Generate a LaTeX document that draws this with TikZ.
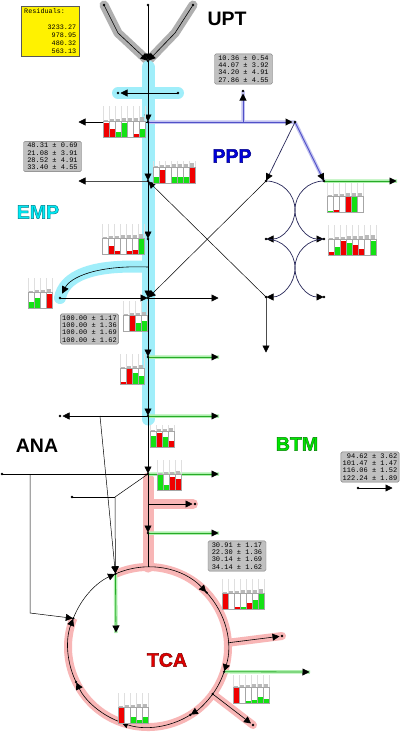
\documentclass[tikz,border=0pt]{standalone}
\usepackage{fontspec}
\setmainfont{Liberation Sans}
\newfontfamily\monof{Liberation Mono}
\usetikzlibrary{arrows.meta,calc}
\makeatletter
\newcommand{\outl}[1]{\pgfsys@invoke{2 Tr #1 RG 0.45 w}}
\makeatother
\definecolor{barR}{RGB}{240,0,0}
\definecolor{barG}{RGB}{20,225,20}
\definecolor{cyanhl}{RGB}{160,238,250}
\definecolor{pinkhl}{RGB}{248,182,182}
\definecolor{greyhl}{RGB}{175,175,175}
\definecolor{boxgrey}{RGB}{192,192,192}
\definecolor{boxedge}{RGB}{120,120,120}
\definecolor{pppblue}{RGB}{80,80,200}
\definecolor{pppnavy}{RGB}{40,40,90}
\definecolor{grline}{RGB}{40,170,40}
\definecolor{grhalo}{RGB}{175,240,175}
\definecolor{bluehalo}{RGB}{195,195,240}
\definecolor{empcyan}{RGB}{0,235,245}
\definecolor{tcared}{RGB}{225,0,0}
\definecolor{btmgreen}{RGB}{0,230,0}
\definecolor{ppptext}{RGB}{0,0,220}
\newcommand{\bchart}[4]{%
 \foreach \bcol/\bfr [count=\i from 0] in {#4} {%
  \pgfmathsetmacro{\xa}{#1+6*\i}%
  \pgfmathsetmacro{\xb}{#1+6*\i+6}%
  \pgfmathsetmacro{\yb}{#2+16}%
  \pgfmathsetmacro{\yf}{#2+16-16*\bfr}%
  \pgfmathsetmacro{\yh}{#2-#3}%
  \pgfmathsetmacro{\yg}{#2-1.5-0.4*\i}%
  \draw[hdr] (\xa,#2) -- (\xa,\yh);
  \draw[hdr] (\xb,#2) -- (\xb,\yh);
  \fill[gray!55] (\xa+0.6,#2) rectangle (\xb-0.6,\yg);
  \fill[white] (\xa,#2) rectangle (\xb,\yb);
  \fill[\bcol] (\xa,\yb) rectangle (\xb,\yf);
  \draw[gray!70,line width=0.4pt] (\xa,#2) rectangle (\xb,\yb);
 }}
\begin{document}
\begin{tikzpicture}[x=1pt,y=-1pt,
  arr/.style={-{Triangle[length=7pt,width=7pt,black]},shorten >=0.5pt},
  arrd/.style={-{Triangle[length=7pt,width=7pt,black]},shorten >=2.5pt},
  ln/.style={line width=0.6pt},
  grn/.style={line width=0.8pt,draw=grline},
  navy/.style={line width=0.7pt,draw=pppnavy},
  hdr/.style={draw=gray!25,line width=0.3pt},
  valbox/.style={draw=boxedge,fill=boxgrey,rounded corners=1.5pt,font=\monof\fontsize{7}{7.3}\selectfont,align=right,inner sep=1.8pt,minimum width=58pt},
  bigtxt/.style={font=\bfseries\fontsize{19.5}{20}\selectfont,inner sep=0pt}]
\useasboundingbox (0,0) rectangle (400,737);
\fill[white] (0,0) rectangle (400,737);
% ---------- coordinates
\coordinate (u0) at (148,5);
\coordinate (uL) at (104,5);
\coordinate (uLm) at (118,33);
\coordinate (uR) at (193,5);
\coordinate (uRm) at (175,33);
\coordinate (u1) at (148,61);
\coordinate (hR) at (178,93);
\coordinate (hL) at (118,93);
\coordinate (a1) at (148,122);
\coordinate (a1L) at (78,122);
\coordinate (b0) at (243,122);
\coordinate (b0U) at (243,91);
\coordinate (b1) at (295,122);
\coordinate (a2) at (148,181);
\coordinate (a2L) at (78,181);
\coordinate (a3) at (148,239);
\coordinate (cy0) at (148,267);
\coordinate (cyE) at (62,294);
\coordinate (e4L) at (60,298);
\coordinate (a4) at (148,298);
\coordinate (a4R) at (219,298);
\coordinate (a5) at (148,357);
\coordinate (a5R) at (219,357);
\coordinate (a6) at (148,416);
\coordinate (a6R) at (219,416);
\coordinate (a6L) at (60,416);
\coordinate (d6) at (100,416);
\coordinate (a7) at (148,474);
\coordinate (a7R) at (219,474);
\coordinate (f0) at (2,474);
\coordinate (f1) at (30,474);
\coordinate (f2) at (30,613);
\coordinate (g1) at (115,497);
\coordinate (g0) at (72,497);
\coordinate (t0) at (148,504);
\coordinate (t0R) at (195,504);
\coordinate (a8) at (148,533);
\coordinate (a8R) at (219,533);
\coordinate (ctop) at (148,567);
\coordinate (cc) at (148,647);
\coordinate (cT) at ($(cc)+(-114:80)$);
\coordinate (n1) at ($(cc)+(-43:80)$);
\coordinate (b3) at ($(cc)+(-3:80)$);
\coordinate (n2) at ($(cc)+(18:80)$);
\coordinate (n3) at ($(cc)+(36:80)$);
\coordinate (n4) at ($(cc)+(58:80)$);
\coordinate (n5) at ($(cc)+(110:80)$);
\coordinate (n6) at ($(cc)+(154:80)$);
\coordinate (cL) at ($(cc)+(201:80)$);
\coordinate (b3D) at (282,636);
\coordinate (n2R) at (310,672);
\coordinate (n3D) at (253,725);
\coordinate (cTD) at (116,633);
\coordinate (P1) at (266,181);
\coordinate (P2) at (324,181);
\coordinate (P2R) at (397,181);
\coordinate (M1) at (295,210);
\coordinate (L2) at (266,239);
\coordinate (R2) at (324,239);
\coordinate (M2) at (295,268);
\coordinate (L3) at (266,297);
\coordinate (R3) at (324,297);
\coordinate (L3D) at (266,353);
\coordinate (q0) at (358,488);
\coordinate (q1) at (393,488);
% ---------- highlights
\draw[greyhl,line width=9pt,line cap=round,line join=round] (uL)--(uLm)--(u1);
\draw[greyhl,line width=9pt,line cap=round,line join=round] (uR)--(uRm)--(u1);
\draw[cyanhl,line width=13pt,line cap=round] (148,67)--(148,419);
\draw[cyanhl,line width=12pt,line cap=round] (hL)--(hR);
\draw[cyanhl,line width=12pt,line cap=round] (cy0) .. controls (92,264) and (64,276) .. (e4L);
\draw[pinkhl,line width=11pt,line cap=round] (148,478)--(ctop);
\draw[pinkhl,line width=10pt,line cap=round] (t0)--(193,504);
\draw[pinkhl,line width=8pt] (cT) arc[start angle=-114,end angle=201,radius=80];
\draw[pinkhl,line width=8pt,line cap=round] (b3)--(b3D);
\draw[pinkhl,line width=8pt,line cap=round] (n3)--(n3D);
\draw[bluehalo,line width=3.5pt] (a1)--(b1) (b0)--(b0U) (b1)--(P2);
\draw[grhalo,line width=3.5pt] (P2)--(P2R) (a5)--(a5R) (a6)--(a6R) (a7)--(a7R) (a8)--(a8R) (cT)--(cTD) (n2)--(n2R);
% ---------- UPT
\draw[ln,arr] (uL)--(uLm)--(u1);
\draw[ln,arr] (uR)--(uRm)--(u1);
\draw[ln,arr] (u0)--(u1);
% ---------- main axis
\draw[ln,arr] (u1)--(a1);
\draw[ln,arr] (a1)--(a2);
\draw[ln,arr] (a2)--(a3);
\draw[ln,arr] (a3)--(a4);
\draw[ln,arr] (a4)--(a5);
\draw[ln,arr] (a5)--(a6);
\draw[ln,arr] (a6)--(a7);
\draw[ln,arr] (a7)--(a8);
\draw[ln] (a8)--(ctop);
\draw[ln,arrd] (hR)--(hL);
\draw[ln,arr] (a1)--(a1L);
\draw[ln,arr,draw=gray!60!black] (a2)--(a2L);
% ---------- PPP
\draw[line width=1pt,draw=pppblue,arrd] (a1)--(b1);
\draw[line width=1pt,draw=pppblue,arrd] (b0)--(b0U);
\draw[navy,arr] (b1)--(P1);
\draw[line width=0.9pt,draw=pppblue,arr] (b1)--(P2);
\draw[navy] (P1) arc[start angle=-90,end angle=0,radius=29];
\draw[navy,arr] (M1) arc[start angle=0,end angle=90,radius=29];
\draw[navy] (P2) arc[start angle=-90,end angle=-180,radius=29];
\draw[navy,arr] (M1) arc[start angle=180,end angle=90,radius=29];
\draw[navy] (L2) arc[start angle=-90,end angle=0,radius=29];
\draw[navy,arr] (M2) arc[start angle=0,end angle=90,radius=29];
\draw[navy] (R2) arc[start angle=-90,end angle=-180,radius=29];
\draw[navy,arr] (M2) arc[start angle=180,end angle=90,radius=29];
\draw[grn,arr] (P2)--(P2R);
\draw[line width=0.5pt,arr] (P1)--(a4);
\draw[line width=0.5pt,arr] (L3)--(a2);
\draw[ln,arr,draw=gray!60!black] (L3)--(L3D);
% ---------- EMP / lower glycolysis
\draw[ln,arr] (cy0) .. controls (95,265) and (70,278) .. (cyE);
\draw[ln,arr] (e4L)--(a4);
\draw[ln,arr] (a4)--(a4R);
\draw[grn,arr] (a5)--(a5R);
\draw[grn,arr] (a6)--(a6R);
\draw[line width=0.5pt,arrd] (a6)--(a6L);
\draw[line width=0.5pt,arr] (d6)--(cT);
% ---------- ANA
\draw[line width=0.5pt] (f0)--(a7);
\draw[grn,arr] (a7)--(a7R);
\draw[line width=0.5pt,arr] (f1)--(f2)--(cL);
\draw[line width=0.5pt,arr] (a7)--(g1)--(cT);
\draw[line width=0.5pt] (g0)--(g1);
\draw[ln,arrd] (t0)--(t0R);
\draw[grn,arr] (a8)--(a8R);
% ---------- TCA cycle
\draw[line width=0.5pt,arr] (cL) arc[start angle=201,end angle=246,radius=80];
\draw[ln,arr] (cT) arc[start angle=-114,end angle=-43,radius=80];
\draw[ln,arr] (n1) arc[start angle=-43,end angle=18,radius=80];
\draw[ln] (n2) arc[start angle=18,end angle=36,radius=80];
\draw[ln,arr] (n3) arc[start angle=36,end angle=58,radius=80];
\draw[ln,arr] (n4) arc[start angle=58,end angle=110,radius=80];
\draw[ln,arr] (n5) arc[start angle=110,end angle=154,radius=80];
\draw[ln,arr] (n6) arc[start angle=154,end angle=201,radius=80];
\draw[ln,arrd] (b3)--(b3D);
\draw[grn,arr] (n2)--(n2R);
\draw[ln,arrd] (n3)--(n3D);
\draw[grn,arr] (cT)--(cTD);
\draw[ln,arr] (q0)--(q1);
% ---------- dots
\foreach \p in {u0,uL,uR,u1,hL,hR,a1,b0U,b1,a2,a3,a4,a5,a6,a7,a8,P1,P2,L2,R2,L3,R3,e4L,a6L,f0,g0,t0R,cT,cL,n1,n2,n3,n4,n5,n6,b3D,n3D,q0}
  \fill (\p) circle (1.3);
% ---------- bar charts
\bchart{103}{121}{15}{barR/.85, barR/.5, barG/.3, barG/.9, white/0, barR/.2, barG/.5}
\bchart{153}{167}{6}{barG/.4, barR/.8, white/0, barG/.4, barG/.4, barG/.4, barR/1}
\bchart{102}{238}{14}{white/0, barR/.5, barR/.2, white/0, barR/.2, barR/.25, barG/1}
\bchart{28}{292}{14}{barG/.35, barG/.6, white/0, barR/.9}
\bchart{123}{315}{14}{white/0, barR/1, barG/.5, barG/.6}
\bchart{120}{368}{14}{barR/.15, barR/1, barG/.7, barG/.5}
\bchart{150}{431}{6}{barG/.7, barR/.9, barG/.6, barR/.4}
\bchart{157}{474}{14}{barG/1, barG/.3, barR/.8, barR/.7}
\bchart{327}{196}{13}{barG/.05, barR/.15, white/0, barR/.95, barG/.95, white/0}
\bchart{328}{239}{14}{barR/.2, barG/.5, barR/.85, barG/.75, barR/.6, barR/.4, white/0, barG/.9}
\bchart{222}{593}{14}{barR/1, white/0, barR/.15, barG/.1, barR/.4, barG/.55, barG/.95}
\bchart{233}{687}{12}{barR/1, white/0, barG/.15, barG/.2, barG/.4, barG/.25}
\bchart{118}{707}{14}{barR/1, white/0, barG/.35, barG/.2, barG/.35}
% ---------- boxes
\node[draw=gray!70!black,fill=yellow,anchor=north west,minimum width=58pt,minimum height=50pt,text width=52pt,align=left,inner sep=2.5pt,font=\monof\fontsize{6.8}{8}\selectfont] (resid) at (21,6)
 {Residuals:\\[7.5pt]\hfill 3233.27\\\hfill 978.95\\\hfill 480.32\\\hfill 563.13};
\node[valbox] (boxupt) at (243.5,69) {10.36 ± 0.54\\44.07 ± 3.92\\34.20 ± 4.91\\27.86 ± 4.55};
\node[valbox] (boxemp) at (52.5,156.5) {48.31 ± 0.69\\21.08 ± 3.91\\28.52 ± 4.91\\33.40 ± 4.55};
\node[valbox] (boxhun) at (89.5,329) {100.00 ± 1.17\\100.00 ± 1.36\\100.00 ± 1.69\\100.00 ± 1.62};
\node[valbox] (boxtca) at (237,556) {30.91 ± 1.17\\22.30 ± 1.36\\30.14 ± 1.69\\34.14 ± 1.62};
\node[valbox] (boxbtm) at (370,467) {94.62 ± 3.62\\101.47 ± 1.47\\116.06 ± 1.52\\122.24 ± 1.89};
% ---------- labels
\node[bigtxt,text=black] (tupt) at (227,19) {UPT};
\node[bigtxt,text=ppptext] (tppp) at (232,156) {\outl{0 0 0.5}PPP};
\node[bigtxt,text=empcyan] (temp) at (38,212) {\outl{0 0.5 0.55}EMP};
\node[bigtxt,text=black] (tana) at (37,446) {ANA};
\node[bigtxt,text=btmgreen] (tbtm) at (297,444) {\outl{0 0.5 0}BTM};
\node[bigtxt,text=tcared] (ttca) at (167,660) {\outl{0.5 0 0}TCA};
\end{tikzpicture}
\end{document}
